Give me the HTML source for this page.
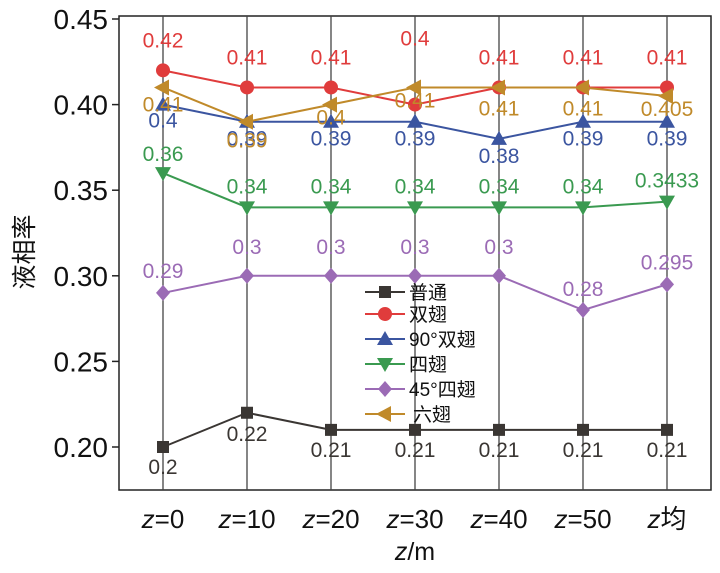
<!DOCTYPE html>
<html><head><meta charset="utf-8"><style>
body{margin:0;background:#fff}
svg text{font-family:"Liberation Sans","Noto Sans CJK SC",sans-serif}
</style></head><body>
<svg id="c" width="720" height="568"></svg>
<script>
const categories=["0","10","20","30","40","50","均"];
const seriesNames=["普通","双翅","90°双翅","四翅","45°四翅","六翅"];
const sPutong=[0.2,0.22,0.21,0.21,0.21,0.21,0.21];
const sShuangchi=[0.42,0.41,0.41,0.4,0.41,0.41,0.41];
const s90=[0.4,0.39,0.39,0.39,0.38,0.39,0.39];
const sSichi=[0.36,0.34,0.34,0.34,0.34,0.34,0.3433];
const s45=[0.29,0.3,0.3,0.3,0.3,0.28,0.295];
const sLiuchi=[0.41,0.39,0.4,0.41,0.41,0.41,0.405];
const yTicks=[0.20,0.25,0.30,0.35,0.40,0.45];
const NS="http://www.w3.org/2000/svg";
const svg=document.getElementById('c');
const X0=163,DX=84;
const x=i=>X0+i*DX;
const y=v=>447-(v-0.2)/0.05*85.6;
function mk(t,a,p){const e=document.createElementNS(NS,t);for(const k in a)e.setAttribute(k,a[k]);(p||svg).appendChild(e);return e;}
const frame=mk('rect',{x:119,y:16,width:592,height:474,fill:'none',stroke:'#222','stroke-width':1.5});


categories.forEach((c,i)=>{
  const g=mk('line',{x1:x(i),x2:x(i),y1:16,y2:490,stroke:'#444','stroke-width':1.3});
  
  
  const t=mk('text',{x:x(i),y:528,'font-size':26,'text-anchor':'middle',fill:'#111'});
  
  
  t.innerHTML='<tspan font-style="italic">z</tspan>'+(c==='均'?'均':'='+c);
});
yTicks.forEach(v=>{
  mk('line',{x1:112,x2:119,y1:y(v),y2:y(v),stroke:'#222','stroke-width':1.5});
  const t=mk('text',{x:108,y:y(v)+10,'font-size':28,'text-anchor':'end',fill:'#111'});
  
  
  t.textContent=v.toFixed(2);
});
const xt=mk('text',{x:415,y:560,'font-size':25,'text-anchor':'middle',fill:'#111'});


xt.innerHTML='<tspan font-style="italic">z</tspan>/m';
const yt=mk('text',{x:0,y:0,'font-size':25,'text-anchor':'middle',fill:'#111',transform:'translate(33,252) rotate(-90)'});


yt.textContent='液相率';
const series=[
 {d:sPutong,c:'#3a3633',m:'sq',dy:[20,21,20,20,20,20,20]},
 {d:s90,c:'#3b55a0',m:'tu',dy:[16,17,17,17,17,17,17]},
 {d:sSichi,c:'#3a9a50',m:'td',dy:[-19,-21,-21,-21,-21,-21,-21]},
 {d:s45,c:'#9b6bb5',m:'dm',dy:[-22,-29,-29,-29,-29,-21,-22]},
 {d:sShuangchi,c:'#e03c3c',m:'ci',dy:[-30,-30,-30,-66,-30,-30,-30]},
 {d:sLiuchi,c:'#c08a2a',m:'tl',dy:[17,19,13,13,21,21,13]}
];
const nameIdx=[0,2,3,4,1,5];
function marker(m,cx,cy,c,p){
  let e;
  if(m==='sq')e=mk('rect',{x:cx-6,y:cy-6,width:12,height:12,fill:c},p);
  else if(m==='ci')e=mk('circle',{cx,cy,r:7,fill:c},p);
  else if(m==='tu')e=mk('polygon',{points:`${cx},${cy-8} ${cx-8},${cy+6} ${cx+8},${cy+6}`,fill:c},p);
  else if(m==='td')e=mk('polygon',{points:`${cx},${cy+8} ${cx-8},${cy-6} ${cx+8},${cy-6}`,fill:c},p);
  else if(m==='dm')e=mk('polygon',{points:`${cx},${cy-8} ${cx+7},${cy} ${cx},${cy+8} ${cx-7},${cy}`,fill:c},p);
  else e=mk('polygon',{points:`${cx-9},${cy} ${cx+6},${cy-8} ${cx+6},${cy+8}`,fill:c},p);
  return e;
}
series.forEach((s,si)=>{
  const g=mk('g',{});
  
  
  mk('polyline',{points:s.d.map((v,i)=>x(i)+','+y(v)).join(' '),fill:'none',stroke:s.c,'stroke-width':2},g);
  s.d.forEach((v,i)=>{
    const mm=marker(s.m,x(i),y(v),s.c,g);
    
    
  });
});
series.forEach((s,si)=>{
  s.d.forEach((v,i)=>{
    const t=mk('text',{x:x(i),y:y(v)+s.dy[i]+7,'font-size':21,'text-anchor':'middle',fill:s.c});
    
    
    t.textContent=String(v);
  });
});
const lg=mk('g',{});


const legOrder=[0,4,1,2,3,5];
const legY=[292,314,339,364,389,414];
legOrder.forEach((si,k)=>{
  const s=series[si];
  const e=mk('g',{},lg);
  
  
  mk('line',{x1:365,x2:405,y1:legY[k],y2:legY[k],stroke:s.c,'stroke-width':2},e);
  marker(s.m,385,legY[k],s.c,e);
  const t=mk('text',{x:k===5?413:409,y:legY[k]+7,'font-size':19,fill:'#111'},e);
  t.textContent=seriesNames[nameIdx[si]];
});
</script>
</body></html>
